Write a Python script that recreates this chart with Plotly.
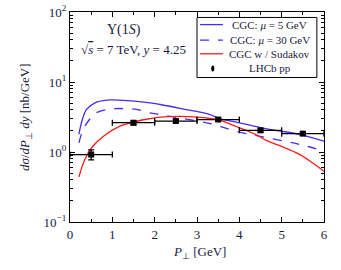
import plotly.graph_objects as go

# --- data ---
pt_mu5 = [0.21, 0.28, 0.39, 0.59, 0.87, 1.18, 1.57, 1.89, 2.13, 2.6, 3.31, 3.53, 3.9, 4.65, 5.39, 6.0]
cs_mu5 = [1.78, 2.75, 4.05, 5.04, 5.5, 5.5, 5.3, 5.05, 4.77, 4.2, 3.43, 3.0, 2.7, 2.14, 1.8, 1.43]

pt_mu30 = [0.21, 0.31, 0.43, 0.59, 0.87, 1.18, 1.57, 1.89, 2.13, 2.6, 3.31, 3.9, 4.65, 5.39, 6.0]
cs_mu30 = [1.35, 2.1, 2.75, 3.55, 4.05, 4.18, 4.05, 3.63, 3.43, 3.05, 2.55, 2.0, 1.6, 1.3, 1.03]

pt_sud = [0.21, 0.35, 0.51, 0.79, 1.18, 1.57, 1.89, 2.13, 2.6, 3.0, 3.31, 3.53, 3.9, 4.37, 4.65, 5.0, 5.39, 5.7, 6.0]
cs_sud = [0.44, 0.78, 1.15, 1.68, 2.34, 2.75, 3.0, 3.15, 3.22, 3.15, 3.01, 2.85, 2.35, 1.8, 1.45, 1.2, 0.95, 0.72, 0.53]

lhcb_pt = [0.5, 1.5, 2.5, 3.5, 4.5, 5.5]
lhcb_cs = [0.92, 2.62, 2.77, 2.91, 2.04, 1.83]
lhcb_xerr = [0.5, 0.5, 0.5, 0.5, 0.5, 0.5]
lhcb_yerr = [0.15, 0.17, 0.15, 0.15, 0.12, 0.1]

ytick_vals = [0.1, 1, 10, 100]
ytick_text = ["10<sup>−1</sup>", "10<sup>0</sup>", "10<sup>1</sup>", "10<sup>2</sup>"]
yminor_vals = [m * 10 ** e for e in (-1, 0, 1) for m in range(2, 10)]

legend_labels = ["CGC: <i>μ</i> = 5 GeV", "CGC: <i>μ</i> = 30 GeV", "CGC w / Sudakov", "LHCb pp"]

BLUE = "#4a2af5"
RED = "#ff1a1a"
TXT = "#1a1a40"
FONT = "Liberation Serif"

fig = go.Figure()
fig.add_trace(go.Scatter(x=pt_mu5, y=cs_mu5, mode="lines", name=legend_labels[0],
                         line=dict(color=BLUE, width=1.3, shape="spline")))
fig.add_trace(go.Scatter(x=pt_mu30, y=cs_mu30, mode="lines", name=legend_labels[1],
                         line=dict(color=BLUE, width=1.3, dash="dash", shape="spline")))
fig.add_trace(go.Scatter(x=pt_sud, y=cs_sud, mode="lines", name=legend_labels[2],
                         line=dict(color=RED, width=1.3, shape="spline")))
fig.add_trace(go.Scatter(x=lhcb_pt, y=lhcb_cs, mode="markers", name=legend_labels[3],
                         marker=dict(color="black", size=6, symbol="square"),
                         error_x=dict(type="data", array=lhcb_xerr, color="black", thickness=1.3, width=3),
                         error_y=dict(type="data", array=lhcb_yerr, color="black", thickness=1.3, width=3)))

# --- hand-drawn compact legend (paper coordinates) ---
shapes = [dict(type="rect", xref="paper", yref="paper", x0=0.5, x1=0.972, y0=0.688, y1=0.974,
               line=dict(color="black", width=1), fillcolor="white", layer="above")]
row_y = [0.940, 0.866, 0.801, 0.731]
line_styles = [dict(color=BLUE, width=1.3), dict(color=BLUE, width=1.3, dash="dash"), dict(color=RED, width=1.3)]
for ry, ls in zip(row_y[:3], line_styles):
    shapes.append(dict(type="line", xref="paper", yref="paper", x0=0.512, x1=0.602, y0=ry, y1=ry,
                       line=ls, layer="above"))
shapes.append(dict(type="circle", xref="paper", yref="paper", x0=0.556, x1=0.568,
                   y0=row_y[3] - 0.0145, y1=row_y[3] + 0.0145, fillcolor="black",
                   line=dict(color="black", width=0), layer="above"))

annotations = [
    dict(x=0.787, y=ry, xref="paper", yref="paper", xanchor="center", yanchor="middle",
         text=lab, showarrow=False, font=dict(family=FONT, size=11, color=TXT))
    for ry, lab in zip(row_y, legend_labels)
]
annotations += [
    dict(x=0.213, y=0.912, xref="paper", yref="paper", xanchor="center", yanchor="middle",
         text="Υ(1<i>S</i>)", showarrow=False, font=dict(family=FONT, size=14, color=TXT)),
    dict(x=0.035, y=0.82, xref="paper", yref="paper", xanchor="left", yanchor="middle",
         text="√<span style='text-decoration:overline'><i>s</i></span> = 7 TeV, <i>y</i> = 4.25",
         showarrow=False, font=dict(family=FONT, size=13, color=TXT)),
    dict(x=-0.177, y=0.5, xref="paper", yref="paper", xanchor="center", yanchor="middle", textangle=-90,
         text="<i>dσ</i>/<i>dP</i><sub>⊥</sub> <i>dy</i> [nb/GeV]", showarrow=False,
         font=dict(family=FONT, size=13, color=TXT)),
    dict(x=0.51, y=-0.145, xref="paper", yref="paper", xanchor="center", yanchor="middle",
         text="<i>P</i><sub>⊥</sub> [GeV]", showarrow=False, font=dict(family=FONT, size=13, color=TXT)),
]

fig.update_layout(
    width=341, height=270,
    margin=dict(l=70, r=17, t=12, b=48),
    paper_bgcolor="white", plot_bgcolor="white",
    font=dict(family=FONT, size=12, color=TXT),
    showlegend=False,
    shapes=shapes,
    annotations=annotations,
)

fig.update_xaxes(
    range=[0, 6], tickmode="linear", tick0=0, dtick=1, automargin=False,
    ticks="inside", ticklen=5, tickcolor="black",
    showline=True, linecolor="black", linewidth=1.3, mirror="ticks",
    showgrid=False, zeroline=False,
    minor=dict(tickmode="linear", tick0=0, dtick=0.5, ticks="inside", ticklen=3, tickcolor="black", showgrid=False),
    tickfont=dict(family=FONT, size=13, color=TXT),
)
fig.update_yaxes(
    type="log", range=[-1, 2], automargin=False,
    tickmode="array", tickvals=ytick_vals, ticktext=ytick_text,
    ticks="inside", ticklen=5, tickcolor="black",
    showline=True, linecolor="black", linewidth=1.3, mirror="ticks",
    showgrid=False, zeroline=False,
    minor=dict(tickmode="array", tickvals=yminor_vals, ticks="inside", ticklen=3, tickcolor="black", showgrid=False),
    tickfont=dict(family=FONT, size=13, color=TXT),
)

fig.write_html("out.html", config={"displayModeBar": False},
               post_script="document.body.style.margin='0';")
